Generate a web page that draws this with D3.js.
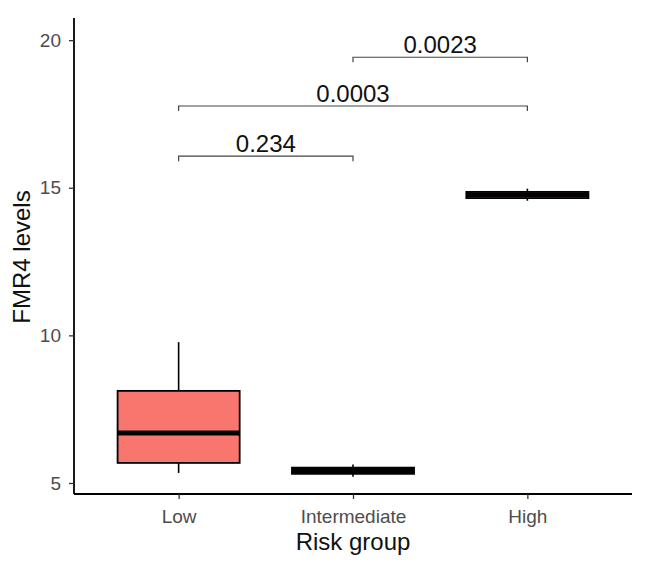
<!DOCTYPE html>
<html><head><meta charset="utf-8">
<script src="https://cdn.jsdelivr.net/npm/d3@7"></script>
<style>body{margin:0;background:#fff}</style>
</head><body>
<svg id="c" width="650" height="570"></svg>
<script>
const categories = ["Low", "Intermediate", "High"];
const q1 = [5.68, 5.31, 14.65];
const median = [6.69, 5.42, 14.76];
const q3 = [8.12, 5.52, 14.86];
const whiskerLow = [5.34, 5.21, 14.56];
const whiskerHigh = [9.77, 5.63, 14.97];
const fills = ["#F8766D", "#F8766D", "#F8766D"];
const yTicks = [5, 10, 15, 20];
const comparisons = [
  {from: "Low", to: "Intermediate", y: 16.07, label: "0.234"},
  {from: "Low", to: "High", y: 17.77, label: "0.0003"},
  {from: "Intermediate", to: "High", y: 19.42, label: "0.0023"}
];

(function(){
const svg = d3.select("#c");
const mLeft = 74, mRight = 632, mTop = 18, mBottom = 494;
const x = d3.scalePoint().domain(categories).range([mLeft, mRight]).padding(0.6);
const step = x.step();
const y = d3.scaleLinear().domain([4.627, 20.75]).range([mBottom, mTop]);
const font = "Liberation Sans, Arial, sans-serif";
const bw = step * 0.7;

categories.forEach((c, i) => {
  const cx = x(c);
  const g = svg.append("g");
  g.append("line").attr("x1", cx).attr("x2", cx).attr("y1", y(q3[i])).attr("y2", y(whiskerHigh[i])).attr("stroke", "#000").attr("stroke-width", 1.6);
  g.append("line").attr("x1", cx).attr("x2", cx).attr("y1", y(q1[i])).attr("y2", y(whiskerLow[i])).attr("stroke", "#000").attr("stroke-width", 1.6);
  g.append("rect").attr("x", cx - bw/2).attr("width", bw).attr("y", y(q3[i])).attr("height", Math.max(0.5, y(q1[i]) - y(q3[i])))
    .attr("fill", fills[i]).attr("stroke", "#000").attr("stroke-width", 1.8);
  g.append("line").attr("x1", cx - bw/2).attr("x2", cx + bw/2).attr("y1", y(median[i])).attr("y2", y(median[i])).attr("stroke", "#000").attr("stroke-width", 5);
});

comparisons.forEach(d => {
  const x1 = x(d.from), x2 = x(d.to), yy = y(d.y);
  svg.append("path").attr("d", `M${x1},${yy+5}V${yy}H${x2}V${yy+5}`).attr("fill", "none").attr("stroke", "#444").attr("stroke-width", 1.2);
  svg.append("text").attr("x", (x1 + x2) / 2).attr("y", yy - 4).attr("text-anchor", "middle")
    .attr("font-family", font).attr("font-size", 24).attr("fill", "#111").text(d.label);
});

const ya = svg.append("g").attr("transform", `translate(${mLeft},0)`)
  .call(d3.axisLeft(y).tickValues(yTicks).tickSize(5).tickPadding(8));
ya.select(".domain").attr("d", `M0,${mTop}V${mBottom}`).attr("stroke", "#000").attr("stroke-width", 1.8);
ya.selectAll(".tick line").attr("stroke", "#333").attr("stroke-width", 1.3);
ya.selectAll(".tick text").attr("font-family", font).attr("font-size", 19).attr("fill", "#4d4d4d");

const xa = svg.append("g").attr("transform", `translate(0,${mBottom})`)
  .call(d3.axisBottom(x).tickSize(5).tickPadding(11));
xa.select(".domain").attr("d", `M${mLeft},0H${mRight}`).attr("stroke", "#000").attr("stroke-width", 1.8);
xa.selectAll(".tick line").attr("stroke", "#333").attr("stroke-width", 1.3);
xa.selectAll(".tick text").attr("font-family", font).attr("font-size", 19).attr("fill", "#4d4d4d");

svg.append("text").attr("x", (mLeft + mRight) / 2).attr("y", 550).attr("text-anchor", "middle")
  .attr("font-family", font).attr("font-size", 24).attr("fill", "#111").text("Risk group");
svg.append("text").attr("transform", `translate(30,257) rotate(-90)`).attr("text-anchor", "middle")
  .attr("font-family", font).attr("font-size", 24).attr("fill", "#111").text("FMR4 levels");
})();
</script>
</body></html>
